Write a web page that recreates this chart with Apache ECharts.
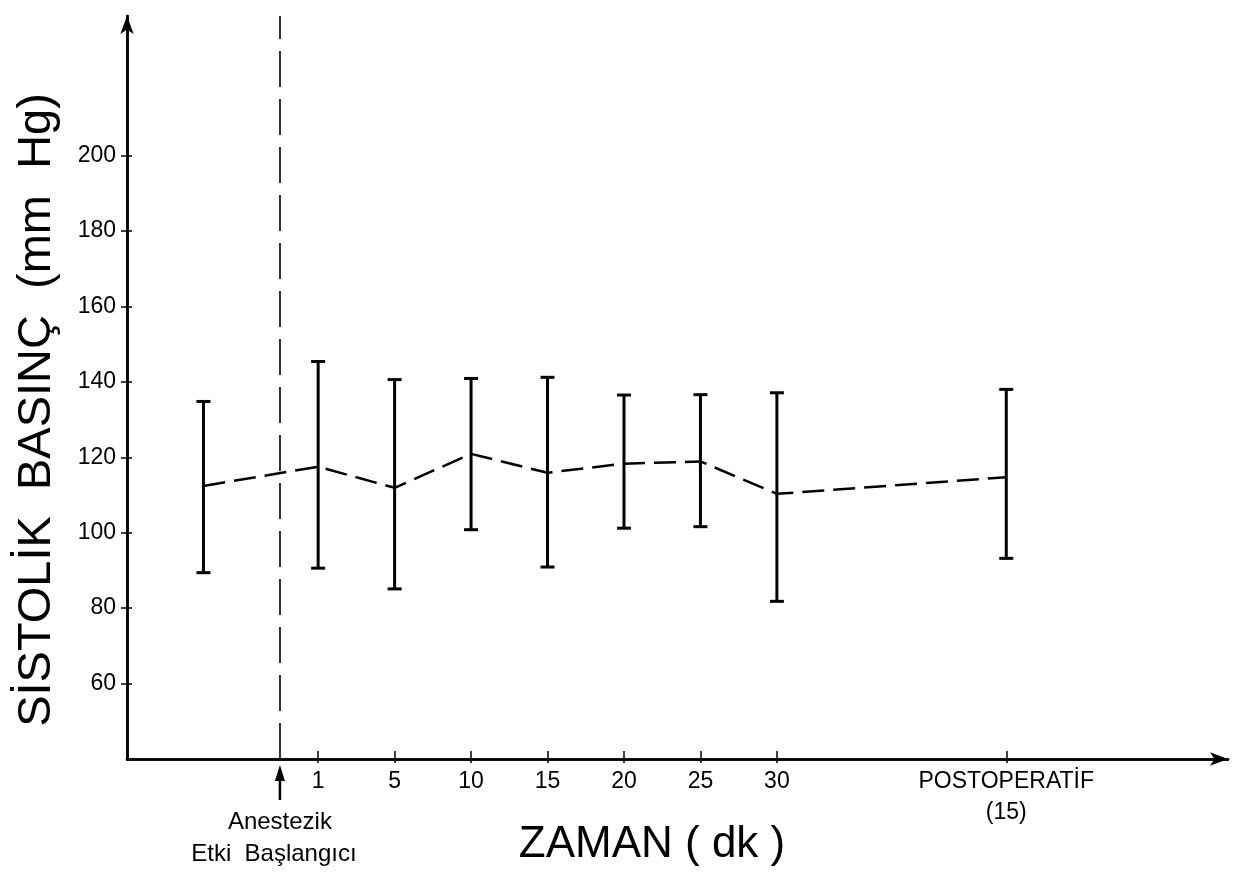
<!DOCTYPE html>
<html>
<head>
<meta charset="utf-8">
<title>Sistolik basınç</title>
<script src="https://cdn.jsdelivr.net/npm/echarts@6/dist/echarts.min.js"></script>
<style>
  html, body { margin: 0; background: #fff; }
  #chart { width: 1242px; height: 874px; }
</style>
</head>
<body>
<div id="chart"></div>
<script>
// measurement times, in slot units along the time axis (first one is the baseline)
const xSlots = [1, 2.5, 3.5, 4.5, 5.5, 6.5, 7.5, 8.5, 11.5];
const xLabels = ['', '1', '5', '10', '15', '20', '25', '30', 'POSTOPERATİF\n(15)'];
// systolic pressure, mm Hg
const meanValues = [112.4, 117.5, 111.9, 120.9, 115.9, 118.3, 118.9, 110.3, 114.7];
const upperValues = [134.8, 145.4, 140.6, 140.9, 141.2, 136.5, 136.6, 137.1, 138.0];
const lowerValues = [89.4, 90.6, 85.1, 100.8, 90.9, 101.2, 101.6, 81.8, 93.2];
const onsetSlot = 2;
const yTicks = [60, 80, 100, 120, 140, 160, 180, 200];

const tickSlots = xSlots.slice(1);
const font = '"Liberation Sans", sans-serif';

const chart = echarts.init(document.getElementById('chart'));

const renderErrorBar = (params, api) => {
  const x = api.value(0);
  const lo = api.coord([x, api.value(1)]);
  const hi = api.coord([x, api.value(2)]);
  const half = 7;
  const style = { stroke: '#000', lineWidth: 3 };
  return {
    type: 'group',
    children: [
      { type: 'line', shape: { x1: hi[0], y1: hi[1], x2: lo[0], y2: lo[1] }, style },
      { type: 'line', shape: { x1: hi[0] - half, y1: hi[1], x2: hi[0] + half, y2: hi[1] }, style },
      { type: 'line', shape: { x1: lo[0] - half, y1: lo[1], x2: lo[0] + half, y2: lo[1] }, style }
    ]
  };
};

const gridBox = { left: 127, right: 14, top: 16, bottom: 115 };
const xBase = { type: 'value', min: 0, max: 14.4, splitLine: { show: false } };
const yBase = { type: 'value', min: 40, max: 237, splitLine: { show: false } };
const tickStyle = { color: '#000', width: 1.5 };

chart.setOption({
  animation: false,
  backgroundColor: '#fff',
  // second grid only carries the inner half of the crossing ticks
  grid: [{ ...gridBox }, { ...gridBox }],
  xAxis: [
    {
      ...xBase,
      gridIndex: 0,
      axisLine: {
        lineStyle: { color: '#000', width: 2.5 },
        symbol: ['none', 'arrow'],
        symbolSize: [10, 18]
      },
      axisTick: { customValues: tickSlots, length: 4, lineStyle: tickStyle },
      axisLabel: {
        customValues: tickSlots,
        formatter: (v) => xLabels[xSlots.indexOf(v)] || '',
        color: '#000',
        fontFamily: font,
        fontSize: 23,
        lineHeight: 31,
        margin: 7,
        verticalAlign: 'top'
      }
    },
    {
      ...xBase,
      gridIndex: 1,
      axisLine: { show: true, lineStyle: { color: '#000', width: 2.5 } },
      axisTick: { show: true, customValues: tickSlots, inside: true, length: 8, lineStyle: tickStyle },
      axisLabel: { show: true, customValues: tickSlots, formatter: () => '' }
    }
  ],
  yAxis: [
    {
      ...yBase,
      gridIndex: 0,
      axisLine: {
        lineStyle: { color: '#000', width: 2.5 },
        symbol: ['none', 'arrow'],
        symbolSize: [10, 18]
      },
      axisTick: { customValues: yTicks, length: 6, lineStyle: tickStyle },
      axisLabel: {
        customValues: yTicks,
        color: '#000',
        fontFamily: font,
        fontSize: 23,
        margin: 11
      }
    },
    {
      ...yBase,
      gridIndex: 1,
      axisLine: { show: true, lineStyle: { color: '#000', width: 2.5 } },
      axisTick: { show: true, customValues: yTicks, inside: true, length: 5, lineStyle: tickStyle },
      axisLabel: { show: true, customValues: yTicks, formatter: () => '' }
    }
  ],
  series: [
    {
      name: 'ortalama',
      type: 'line',
      xAxisIndex: 0,
      yAxisIndex: 0,
      data: xSlots.map((x, i) => [x, meanValues[i]]),
      symbol: 'none',
      lineStyle: { color: '#000', width: 2.5, type: [22, 9] },
      markLine: {
        silent: true,
        symbol: 'none',
        label: { show: false },
        lineStyle: { color: '#000', width: 1.6, type: [36, 12] },
        data: [{ xAxis: onsetSlot }]
      },
      z: 3
    },
    {
      name: 'SD',
      type: 'custom',
      xAxisIndex: 0,
      yAxisIndex: 0,
      renderItem: renderErrorBar,
      data: xSlots.map((x, i) => [x, lowerValues[i], upperValues[i]]),
      z: 4
    },
    {
      name: 'ticks',
      type: 'line',
      xAxisIndex: 1,
      yAxisIndex: 1,
      data: [],
      silent: true
    }
  ]
});

// onset arrow and caption under the axis, placed through the x scale
const onsetPx = chart.convertToPixel({ xAxisIndex: 0 }, onsetSlot);
chart.setOption({
  graphic: [
    {
      type: 'line',
      shape: { x1: onsetPx, y1: 800, x2: onsetPx, y2: 778 },
      style: { stroke: '#000', lineWidth: 2.5 }
    },
    {
      type: 'polygon',
      shape: { points: [[onsetPx, 765], [onsetPx - 5, 781], [onsetPx + 5, 781]] },
      style: { fill: '#000' }
    },
    {
      type: 'text',
      x: onsetPx,
      y: 822,
      style: { text: 'Anestezik', font: '24px ' + font, fill: '#000', align: 'center', verticalAlign: 'middle' }
    },
    {
      type: 'text',
      x: onsetPx - 6,
      y: 854,
      style: { text: 'Etki  Başlangıcı', font: '24px ' + font, fill: '#000', align: 'center', verticalAlign: 'middle' }
    },
    {
      type: 'text',
      x: 652,
      y: 845,
      style: { text: 'ZAMAN ( dk )', font: '44px ' + font, fill: '#000', align: 'center', verticalAlign: 'middle' }
    },
    {
      type: 'text',
      x: 37,
      y: 410,
      rotation: Math.PI / 2,
      style: { text: 'SİSTOLİK  BASINÇ  (mm  Hg)', font: '47px ' + font, fill: '#000', align: 'center', verticalAlign: 'middle' }
    }
  ]
});

window.addEventListener('resize', () => chart.resize());
</script>
</body>
</html>
